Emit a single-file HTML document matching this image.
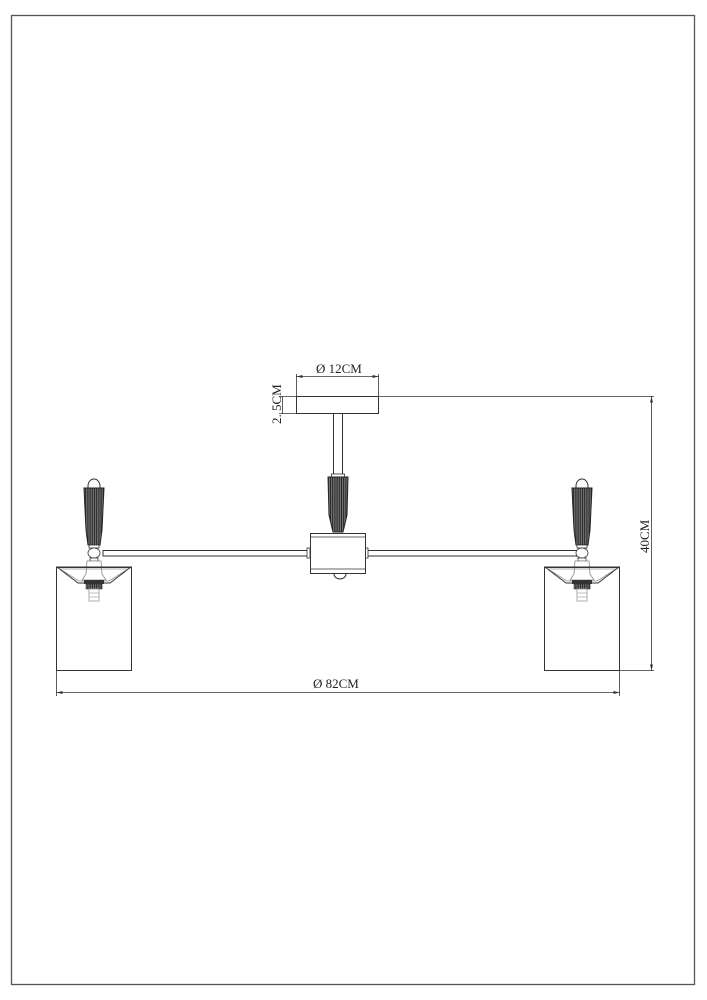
<!DOCTYPE html>
<html><head><meta charset="utf-8"><style>
html,body{margin:0;padding:0;background:#fff;}
svg{display:block;}
text{font-family:"Liberation Serif",serif;font-size:13px;fill:#222;}
</style></head><body>
<svg width="707" height="1000" viewBox="0 0 707 1000" xmlns="http://www.w3.org/2000/svg">
<defs>
<pattern id="rib" width="2.2" height="4" patternUnits="userSpaceOnUse"><rect width="2.2" height="4" fill="#777"/><rect width="1" height="4" fill="#222"/></pattern>
<g id="lamp">
 <path d="M-6,489 L-6,486 A6,7 0 0 1 6,486 L6,489" fill="#fff" stroke="#333" stroke-width="1"/>
 <path d="M-10,488 L10,488 L8,530 L6,545 L-6,545 L-8,530 Z" fill="url(#rib)" stroke="#222" stroke-width="1"/>
 <rect x="-5" y="545" width="10" height="3" fill="#fff" stroke="#333" stroke-width="0.8"/>
 <ellipse cx="0" cy="553" rx="6" ry="5" fill="#fff" stroke="#333" stroke-width="0.8"/>
 <rect x="-4" y="558" width="8" height="3" fill="#fff" stroke="#333" stroke-width="0.8"/>
 <path d="M-7,561 L7,561 L8,574 L12,580 L-12,580 L-8,574 Z" fill="#fff" stroke="#888" stroke-width="0.8"/>
 <path d="M-37,567 L37,567 L16,583 L-16,583 Z" fill="none" stroke="#333" stroke-width="1"/>
 <path d="M-34,569 L34,569 L15,581 L-15,581 Z" fill="none" stroke="#666" stroke-width="0.6"/>
 <rect x="-10" y="580" width="20" height="4" fill="#333"/>
 <rect x="-8" y="584" width="16" height="5" fill="url(#rib)" stroke="#333" stroke-width="0.6"/>
 <rect x="-5" y="589" width="10" height="12" fill="#fff" stroke="#999" stroke-width="0.8"/>
 <line x1="-5" y1="593" x2="5" y2="593" stroke="#999" stroke-width="0.6"/>
 <line x1="-5" y1="597" x2="5" y2="597" stroke="#999" stroke-width="0.6"/>
</g>
</defs>
<rect x="11.5" y="15.5" width="683" height="969" fill="none" stroke="#555" stroke-width="1.3"/>

<rect x="296.5" y="396.5" width="82" height="17" fill="#fff" stroke="#333" stroke-width="1"/>
<rect x="333.5" y="413.5" width="9" height="63" fill="#fff" stroke="#333" stroke-width="1"/>
<rect x="331.5" y="474" width="13" height="3" fill="#fff" stroke="#333" stroke-width="0.8"/>
<path d="M328,477 L348,477 L347,515 L343,532 L333,532 L329,515 Z" fill="url(#rib)" stroke="#222" stroke-width="1"/>

<rect x="103" y="550.5" width="207" height="5.5" fill="#fff" stroke="#333" stroke-width="1"/>
<rect x="365" y="550.5" width="212" height="5.5" fill="#fff" stroke="#333" stroke-width="1"/>
<rect x="307" y="548" width="3" height="10" fill="#fff" stroke="#333" stroke-width="0.8"/>
<rect x="365" y="548" width="3" height="10" fill="#fff" stroke="#333" stroke-width="0.8"/>

<rect x="310.5" y="533.5" width="55" height="40" fill="#fff" stroke="#333" stroke-width="1"/>
<line x1="310" y1="537" x2="366" y2="537" stroke="#333" stroke-width="0.8"/>
<line x1="310" y1="569" x2="366" y2="569" stroke="#333" stroke-width="0.8"/>
<path d="M334,574 A6,5 0 0 0 346,574" fill="#fff" stroke="#333" stroke-width="1"/>

<use href="#lamp" transform="translate(94,0)"/>
<use href="#lamp" transform="translate(582,0)"/>
<rect x="56.5" y="567.5" width="75" height="103" fill="none" stroke="#333" stroke-width="1"/>
<rect x="544.5" y="567.5" width="75" height="103" fill="none" stroke="#333" stroke-width="1"/>

<g stroke="#333" stroke-width="0.8" fill="none">
 <line x1="296.5" y1="374" x2="296.5" y2="397"/>
 <line x1="378.5" y1="374" x2="378.5" y2="397"/>
 <line x1="296.5" y1="376.5" x2="378.5" y2="376.5"/>
 <line x1="279" y1="396.5" x2="297" y2="396.5"/>
 <line x1="279" y1="413.5" x2="297" y2="413.5"/>
 <line x1="282.5" y1="396" x2="282.5" y2="414"/>
 <line x1="378" y1="396.5" x2="654" y2="396.5"/>
 <line x1="619" y1="670.5" x2="654" y2="670.5"/>
 <line x1="651.5" y1="396" x2="651.5" y2="671"/>
 <line x1="56.5" y1="670" x2="56.5" y2="696"/>
 <line x1="619.5" y1="670" x2="619.5" y2="696"/>
 <line x1="56.5" y1="692.5" x2="619.5" y2="692.5"/>
</g>
<g fill="#333">
 <path d="M296.5,376.5 l6,-1.5 v3 z"/><path d="M378.5,376.5 l-6,-1.5 v3 z"/>
 <path d="M651.5,396.5 l-1.5,6 h3 z"/><path d="M651.5,670.5 l-1.5,-6 h3 z"/>
 <path d="M56.5,692.5 l6,-1.5 v3 z"/><path d="M619.5,692.5 l-6,-1.5 v3 z"/>
</g>
<text x="316" y="373">Ø 12CM</text>
<text x="313" y="688">Ø 82CM</text>
<text transform="translate(281,424) rotate(-90)">2. 5CM</text>
<text transform="translate(649,553) rotate(-90)">40CM</text>
</svg>
</body></html>
